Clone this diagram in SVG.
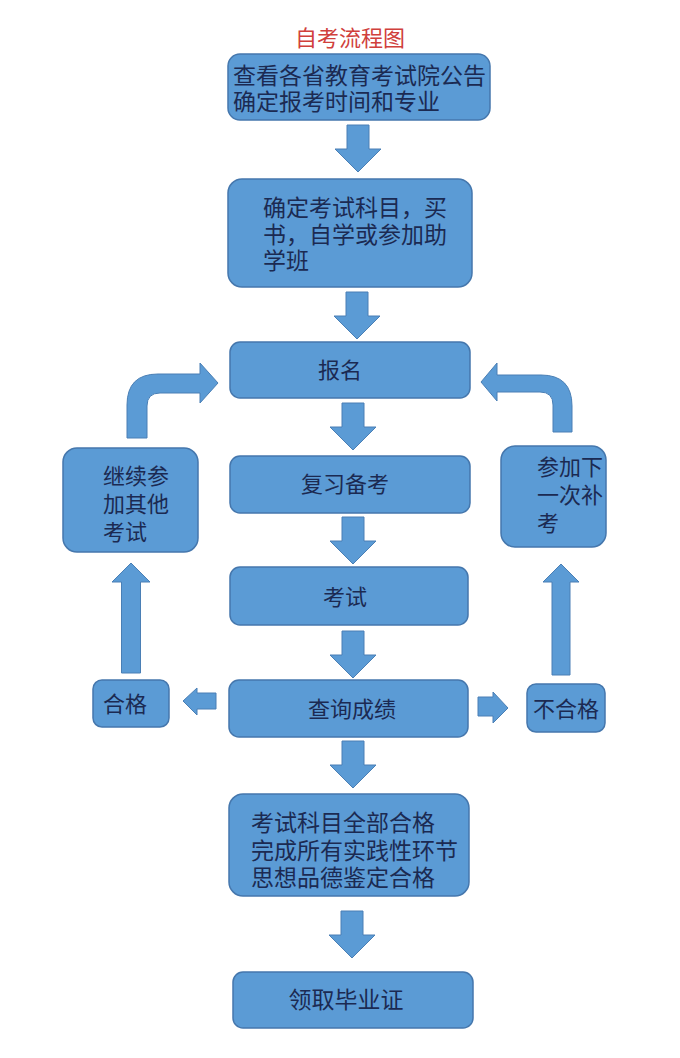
<svg xmlns="http://www.w3.org/2000/svg" width="680" height="1058" viewBox="0 0 680 1058">
<style>
.box{fill:#5b9bd5;stroke:#4577ad;stroke-width:1.5}
.t{font-family:"Liberation Sans","Noto Sans CJK SC",sans-serif;font-size:23px;fill:#1b2a52;dominant-baseline:central}
.c{text-anchor:middle}
.s{font-size:22px}
.title{font-family:"Liberation Sans","Noto Sans CJK SC",sans-serif;font-size:22px;fill:#d0403c;text-anchor:middle;dominant-baseline:central}
.arr{fill:#5b9bd5;stroke:#4a7fb5;stroke-width:1}
</style>
<defs>
<path id="down" d="M-11,0 H11 V24 H23 L0,47 L-23,24 H-11 Z"/>
</defs>
<rect width="680" height="1058" fill="#ffffff"/>
<g id="title"><text class="title" x="350" y="38">自考流程图</text></g>

<g id="connectors" class="arr">
<use href="#down" x="358" y="125"/>
<use href="#down" x="357" y="292"/>
<use href="#down" x="353" y="403"/>
<use href="#down" x="353" y="517"/>
<use href="#down" x="353" y="631"/>
<use href="#down" x="353" y="741"/>
<use href="#down" x="352" y="911"/>
<path d="M183,701 L197,688 L197,693 L216,693 L216,709 L197,709 L197,715 Z"/>
<path d="M508,708 L493,692 L493,697 L478,697 L478,716 L493,716 L493,723 Z"/>
<path d="M131,563 L150,582 L140.5,582 L140.5,673 L121.5,673 L121.5,582 L112,582 Z"/>
<path d="M561,564 L579,582 L570,582 L570,675 L552,675 L552,582 L543,582 Z"/>
<path d="M127,438 L127,405 Q127,374 158,374 L200,374 L200,363 L218,383 L200,403 L200,393 L160,393 Q147,393 147,406 L147,438 Z"/>
<path d="M572,432 L572,406 Q572,375 541,375 L497,375 L497,363 L481,382 L497,401 L497,392 L540,392 Q553,392 553,405 L553,432 Z"/>
</g>

<g id="n1"><rect class="box" x="228" y="54" width="262" height="66" rx="12"/>
<text class="t" x="233" y="76">查看各省教育考试院公告</text>
<text class="t" x="233" y="102">确定报考时间和专业</text></g>

<g id="n2"><rect class="box" x="228" y="179" width="244" height="108" rx="14"/>
<text class="t" x="263" y="208">确定考试科目，买</text>
<text class="t" x="263" y="235">书，自学或参加助</text>
<text class="t" x="263" y="261">学班</text></g>

<g id="n3"><rect class="box" x="230" y="342" width="240" height="56" rx="10"/>
<text class="t c s" x="340" y="370">报名</text></g>

<g id="n4"><rect class="box" x="230" y="456" width="240" height="57" rx="10"/>
<text class="t c s" x="345" y="484">复习备考</text></g>

<g id="n5"><rect class="box" x="230" y="567" width="238" height="58" rx="10"/>
<text class="t c s" x="345" y="597">考试</text></g>

<g id="n6"><rect class="box" x="229" y="680" width="239" height="57" rx="10"/>
<text class="t c s" x="352" y="709">查询成绩</text></g>

<g id="n7"><rect class="box" x="93" y="680" width="76" height="47" rx="9"/>
<text class="t c s" x="125" y="704">合格</text></g>

<g id="n8"><rect class="box" x="527" y="684" width="78" height="48" rx="9"/>
<text class="t c s" x="566" y="709">不合格</text></g>

<g id="n9"><rect class="box" x="63" y="448" width="135" height="104" rx="14"/>
<text class="t s" x="103" y="476">继续参</text>
<text class="t s" x="103" y="504">加其他</text>
<text class="t s" x="103" y="532">考试</text></g>

<g id="n10"><rect class="box" x="501" y="446" width="105" height="101" rx="14"/>
<text class="t s" x="537" y="467">参加下</text>
<text class="t s" x="537" y="495">一次补</text>
<text class="t s" x="537" y="523">考</text></g>

<g id="n11"><rect class="box" x="229" y="794" width="240" height="102" rx="14"/>
<text class="t" x="251" y="823">考试科目全部合格</text>
<text class="t" x="251" y="851">完成所有实践性环节</text>
<text class="t" x="251" y="878">思想品德鉴定合格</text></g>

<g id="n12"><rect class="box" x="233" y="972" width="240" height="56" rx="10"/>
<text class="t c" x="346" y="1000">领取毕业证</text></g>
</svg>
